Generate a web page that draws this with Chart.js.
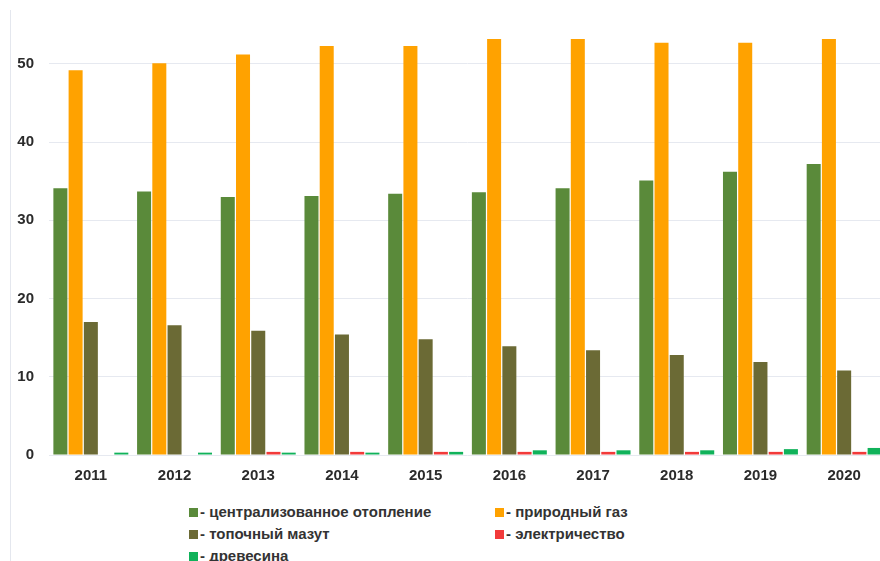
<!DOCTYPE html>
<html>
<head>
<meta charset="utf-8">
<script src="https://cdn.jsdelivr.net/npm/chart.js@4/dist/chart.umd.min.js"></script>
<style>
  html, body { margin: 0; padding: 0; background: #fff; overflow: hidden; }
  body { width: 880px; height: 561px; position: relative; }
  .frame { position: absolute; left: 10px; top: 10px; bottom: 0; border-left: 1px solid #e4e7ee; }
  .wrap { position: absolute; left: 0; top: 0; width: 886px; height: 490px; }
  #legend { position: absolute; left: 189px; top: 503px; width: 480px;
    font: bold 15px "Liberation Sans", Arial, sans-serif; color: #333; }
  #legend .item { position: absolute; white-space: nowrap; line-height: 18px; }
  #legend .box { display: inline-block; width: 9px; height: 9px; margin-right: 2px; vertical-align: 0px; }
</style>
</head>
<body>
<div class="frame"></div>
<div class="wrap"><canvas id="fuelChart"></canvas></div>
<div id="legend"></div>
<script>
// categories and series
const years = ['2011', '2012', '2013', '2014', '2015', '2016', '2017', '2018', '2019', '2020'];
const centralHeating = [34.1, 33.7, 33.0, 33.1, 33.4, 33.6, 34.1, 35.1, 36.2, 37.2];
const naturalGas = [49.2, 50.1, 51.2, 52.3, 52.3, 53.2, 53.2, 52.7, 52.7, 53.2];
const fuelOil = [17.0, 16.6, 15.9, 15.4, 14.8, 13.9, 13.4, 12.8, 11.9, 10.8];
const electricity = [0, 0, 0.4, 0.4, 0.4, 0.4, 0.4, 0.4, 0.4, 0.4];
const wood = [0.3, 0.3, 0.3, 0.3, 0.4, 0.6, 0.6, 0.6, 0.75, 0.9];
const yTicks = [0, 10, 20, 30, 40, 50];

const series = [
  { label: 'централизованное отопление', data: centralHeating, color: '#5a8a3a' },
  { label: 'природный газ', data: naturalGas, color: '#ffa200' },
  { label: 'топочный мазут', data: fuelOil, color: '#6b6a35' },
  { label: 'электричество', data: electricity, color: '#f23a3a' },
  { label: 'древесина', data: wood, color: '#10b25a' }
];

const font = { family: '"Liberation Sans", Arial, sans-serif', size: 15, weight: 'bold' };

new Chart(document.getElementById('fuelChart'), {
  type: 'bar',
  data: {
    labels: years,
    datasets: series.map(s => ({
      label: s.label,
      data: s.data,
      backgroundColor: s.color,
      borderWidth: 0,
      categoryPercentage: 0.91,
      barPercentage: 0.92
    }))
  },
  options: {
    responsive: true,
    maintainAspectRatio: false,
    animation: false,
    layout: { padding: { top: 17, right: 0, bottom: 0, left: 0 } },
    plugins: {
      legend: { display: false },
      tooltip: { enabled: false }
    },
    scales: {
      x: {
        grid: { display: false },
        border: { display: false },
        ticks: { color: '#2b2b2b', font: font, padding: 4 },
        afterFit: scale => { scale.height = 35; }
      },
      y: {
        min: 0,
        max: 56,
        border: { display: false },
        // invisible tick marks push the labels away from the plot
        grid: { color: '#e6e9f0', lineWidth: 1, drawTicks: true, tickLength: 15, tickColor: 'rgba(0,0,0,0)' },
        ticks: { stepSize: 10, color: '#2b2b2b', font: font, padding: 0 },
        afterBuildTicks: scale => {
          scale.ticks = yTicks.map(v => ({ value: v }));
        },
        afterFit: scale => { scale.width = 49; }
      }
    }
  }
});

// legend in two columns, like the original
const legend = document.getElementById('legend');
const spots = [[0, 0], [306, 0], [0, 22], [306, 22], [0, 44]];
series.forEach((s, i) => {
  const item = document.createElement('div');
  item.className = 'item';
  item.style.left = spots[i][0] + 'px';
  item.style.top = spots[i][1] + 'px';
  item.innerHTML = '<span class="box" style="background:' + s.color + '"></span>- ' + s.label;
  legend.appendChild(item);
});
</script>
</body>
</html>
